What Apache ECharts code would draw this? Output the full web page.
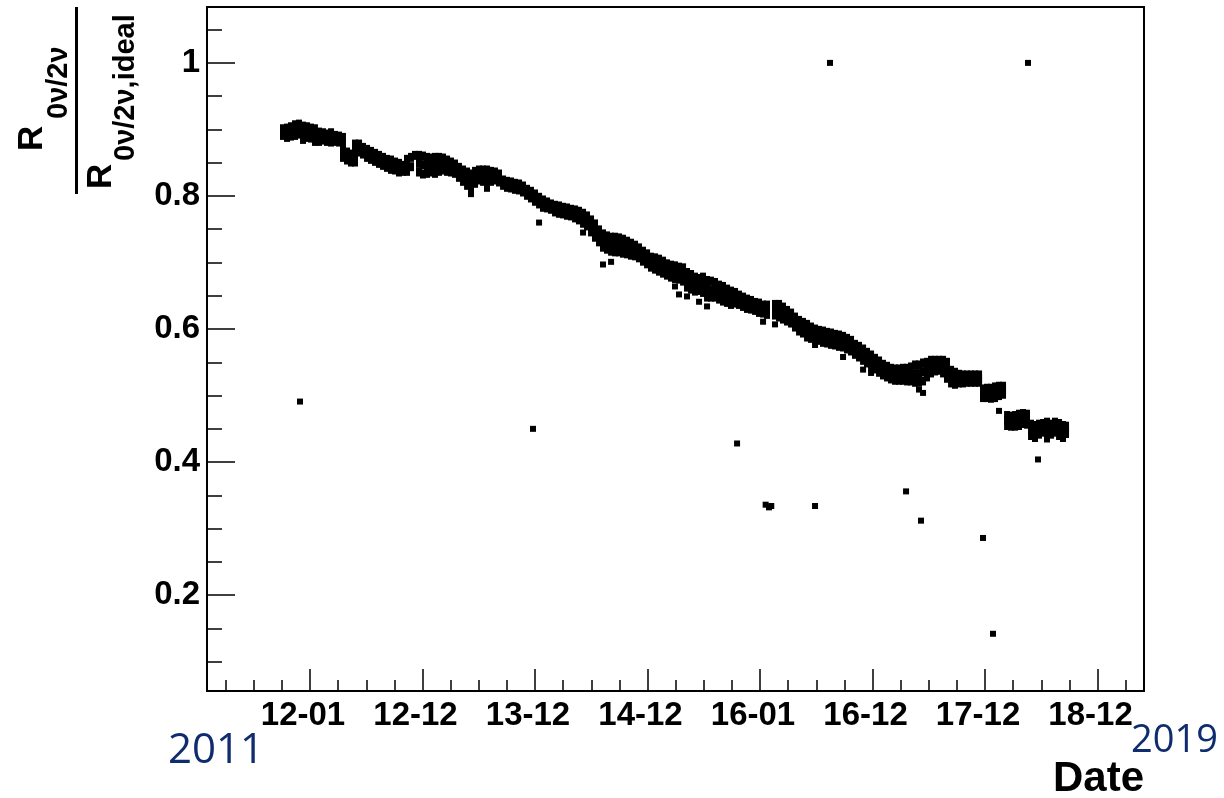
<!DOCTYPE html>
<html><head><meta charset="utf-8">
<script src="https://cdn.jsdelivr.net/npm/echarts@6/dist/echarts.min.js"></script>
<style>html,body{margin:0;padding:0;background:#fff}#c{width:1224px;height:798px}</style>
</head><body><div id="c"></div>
<script>
// x unit: one major tick interval (~1 year); 0 = "12-01"
const xTickValues = [0, 1, 2, 3, 4, 5, 6, 7];
const xTickLabels = ['12-01', '12-12', '13-12', '14-12', '16-01', '16-12', '17-12', '18-12'];
const xMinorValues = [-0.75, -0.5, -0.25, 0.25, 0.5, 0.75, 1.25, 1.5, 1.75, 2.25, 2.5, 2.75, 3.25, 3.5, 3.75,
  4.25, 4.5, 4.75, 5.25, 5.5, 5.75, 6.25, 6.5, 6.75, 7.25];
const yTickValues = [0.2, 0.4, 0.6, 0.8, 1.0];
const yMinorValues = [0.1, 0.15, 0.25, 0.3, 0.35, 0.45, 0.5, 0.55, 0.65, 0.7, 0.75, 0.85, 0.9, 0.95, 1.05];

// main band: [date, ratio, ratio, ...]
const band2012a = [
  [-0.240, 0.901, 0.896, 0.891], [-0.204, 0.902, 0.895, 0.888], [-0.169, 0.904, 0.897, 0.890],
  [-0.133, 0.907, 0.899, 0.891], [-0.098, 0.908, 0.901, 0.893], [-0.062, 0.905, 0.895, 0.885],
  [-0.027, 0.904, 0.896, 0.888], [0.009, 0.902, 0.895, 0.887], [0.044, 0.901, 0.891, 0.882],
  [0.080, 0.896, 0.889, 0.882], [0.116, 0.895, 0.889, 0.884], [0.151, 0.893, 0.888, 0.882],
  [0.187, 0.895, 0.888, 0.881], [0.222, 0.891, 0.887, 0.882], [0.258, 0.890, 0.885, 0.881],
  [0.293, 0.888, 0.879, 0.867, 0.858], [0.329, 0.866, 0.859, 0.854], [0.364, 0.863, 0.856, 0.851],
  [0.400, 0.878, 0.870, 0.860, 0.851], [0.436, 0.878, 0.872, 0.866], [0.471, 0.873, 0.868, 0.863],
  [0.507, 0.870, 0.864, 0.858], [0.542, 0.867, 0.861, 0.855], [0.578, 0.864, 0.858, 0.852],
  [0.613, 0.861, 0.855, 0.849], [0.649, 0.858, 0.852, 0.846], [0.684, 0.855, 0.849, 0.843],
  [0.720, 0.854, 0.847, 0.840], [0.756, 0.851, 0.845, 0.839], [0.791, 0.849, 0.843, 0.836],
  [0.827, 0.846, 0.842, 0.837], [0.862, 0.855, 0.846, 0.837], [0.898, 0.858, 0.844], [0.933, 0.861]
];
const band2013 = [
  [0.969, 0.861, 0.849, 0.836], [1.004, 0.860, 0.847, 0.833], [1.040, 0.858, 0.846, 0.834],
  [1.076, 0.857, 0.847, 0.836], [1.111, 0.858, 0.846, 0.834], [1.147, 0.858, 0.849, 0.837],
  [1.182, 0.857, 0.849, 0.839], [1.218, 0.854, 0.846, 0.837], [1.253, 0.851, 0.843, 0.836],
  [1.289, 0.848, 0.841, 0.834], [1.324, 0.843, 0.836, 0.828], [1.360, 0.839, 0.831, 0.822],
  [1.396, 0.836, 0.826, 0.816], [1.431, 0.833, 0.822, 0.812, 0.805], [1.467, 0.837, 0.828, 0.819],
  [1.502, 0.839, 0.831, 0.824], [1.538, 0.839, 0.831, 0.822], [1.573, 0.839, 0.829, 0.819, 0.813],
  [1.609, 0.837, 0.830, 0.822], [1.644, 0.836, 0.830, 0.824], [1.680, 0.833, 0.827, 0.821],
  [1.716, 0.824, 0.820, 0.816], [1.751, 0.822, 0.818, 0.813], [1.787, 0.821, 0.816, 0.812],
  [1.822, 0.819, 0.815, 0.810], [1.858, 0.818, 0.813, 0.809], [1.893, 0.815, 0.810, 0.806],
  [1.929, 0.810, 0.806, 0.801], [1.964, 0.807, 0.802, 0.797]
];
const band2014 = [
  [2.000, 0.803, 0.797, 0.792], [2.036, 0.798, 0.793, 0.788], [2.071, 0.794, 0.788, 0.783],
  [2.107, 0.791, 0.786, 0.782], [2.142, 0.788, 0.784, 0.780], [2.178, 0.786, 0.781, 0.776],
  [2.213, 0.785, 0.779, 0.774], [2.249, 0.783, 0.778, 0.773], [2.284, 0.782, 0.776, 0.771],
  [2.320, 0.780, 0.775, 0.770], [2.356, 0.779, 0.773, 0.767], [2.391, 0.777, 0.770, 0.764],
  [2.427, 0.774, 0.767, 0.759], [2.462, 0.770, 0.762, 0.755], [2.498, 0.764, 0.755, 0.746],
  [2.533, 0.758, 0.748, 0.738], [2.569, 0.749, 0.740, 0.731], [2.604, 0.743, 0.733, 0.723],
  [2.640, 0.740, 0.730, 0.720], [2.676, 0.738, 0.728, 0.717], [2.711, 0.738, 0.727, 0.716],
  [2.747, 0.737, 0.726, 0.716], [2.782, 0.735, 0.725, 0.714], [2.818, 0.732, 0.722, 0.713],
  [2.853, 0.729, 0.720, 0.711], [2.889, 0.726, 0.718, 0.710], [2.924, 0.722, 0.714, 0.707],
  [2.960, 0.717, 0.710, 0.702]
];
const band2015 = [
  [2.996, 0.713, 0.705, 0.698], [3.031, 0.708, 0.701, 0.693], [3.067, 0.707, 0.698, 0.690],
  [3.102, 0.705, 0.696, 0.687], [3.138, 0.702, 0.693, 0.684], [3.173, 0.698, 0.689, 0.681],
  [3.209, 0.696, 0.687, 0.678], [3.244, 0.695, 0.685, 0.676], [3.280, 0.693, 0.684, 0.675],
  [3.316, 0.692, 0.682, 0.672], [3.351, 0.685, 0.674, 0.663], [3.387, 0.682, 0.671, 0.660],
  [3.422, 0.678, 0.667, 0.657], [3.458, 0.676, 0.667, 0.658], [3.493, 0.678, 0.667, 0.655],
  [3.529, 0.673, 0.661, 0.648], [3.564, 0.672, 0.659, 0.648], [3.600, 0.670, 0.659, 0.648],
  [3.636, 0.666, 0.655, 0.645], [3.671, 0.664, 0.653, 0.642], [3.707, 0.660, 0.650, 0.640],
  [3.742, 0.657, 0.647, 0.637], [3.778, 0.655, 0.647, 0.639], [3.813, 0.651, 0.644, 0.637],
  [3.849, 0.648, 0.641, 0.634], [3.884, 0.645, 0.638, 0.631], [3.920, 0.643, 0.637, 0.630],
  [3.956, 0.640, 0.634, 0.628], [3.991, 0.639, 0.632, 0.625]
];
const band2016 = [
  [4.027, 0.636, 0.630, 0.624], [4.062, 0.636, 0.629, 0.622], [4.133, 0.637, 0.629, 0.621],
  [4.169, 0.637, 0.628, 0.618], [4.204, 0.633, 0.624, 0.615], [4.240, 0.628, 0.620, 0.612],
  [4.276, 0.624, 0.616, 0.609], [4.311, 0.618, 0.610, 0.603], [4.347, 0.613, 0.605, 0.597],
  [4.382, 0.610, 0.602, 0.594], [4.418, 0.607, 0.598, 0.588], [4.453, 0.603, 0.594, 0.586],
  [4.489, 0.600, 0.592, 0.585], [4.524, 0.598, 0.591, 0.583], [4.560, 0.597, 0.589, 0.580],
  [4.596, 0.595, 0.587, 0.579], [4.631, 0.594, 0.585, 0.577], [4.667, 0.592, 0.584, 0.576],
  [4.702, 0.591, 0.582, 0.574], [4.738, 0.589, 0.581, 0.573], [4.773, 0.586, 0.578, 0.570],
  [4.809, 0.583, 0.575, 0.567], [4.844, 0.577, 0.570, 0.562], [4.880, 0.574, 0.566, 0.558],
  [4.916, 0.570, 0.561, 0.553], [4.951, 0.565, 0.557, 0.549], [4.987, 0.561, 0.552, 0.544]
];
const band2017 = [
  [5.022, 0.556, 0.548, 0.540], [5.058, 0.552, 0.543, 0.535], [5.093, 0.547, 0.539, 0.531],
  [5.129, 0.544, 0.536, 0.528], [5.164, 0.541, 0.533, 0.525], [5.200, 0.540, 0.531, 0.523],
  [5.236, 0.540, 0.530, 0.523], [5.271, 0.541, 0.532, 0.523], [5.307, 0.541, 0.531, 0.522],
  [5.342, 0.543, 0.532, 0.522], [5.378, 0.546, 0.533, 0.520], [5.413, 0.546, 0.533, 0.520],
  [5.449, 0.549, 0.536, 0.522], [5.484, 0.550, 0.539, 0.528], [5.520, 0.553, 0.543, 0.534],
  [5.556, 0.553, 0.545, 0.537], [5.591, 0.553, 0.546, 0.538], [5.627, 0.553, 0.543, 0.534],
  [5.662, 0.550, 0.539, 0.526], [5.698, 0.538, 0.528, 0.519], [5.733, 0.535, 0.526, 0.517],
  [5.769, 0.532, 0.525, 0.519], [5.804, 0.531, 0.524, 0.519], [5.840, 0.531, 0.525, 0.520],
  [5.876, 0.531, 0.525, 0.520], [5.911, 0.531, 0.525, 0.520], [5.947, 0.531, 0.525, 0.520]
];
const band2018 = [
  [5.982, 0.510, 0.503, 0.497], [6.018, 0.511, 0.504, 0.497], [6.053, 0.511, 0.503, 0.496],
  [6.089, 0.513, 0.505, 0.497], [6.124, 0.514, 0.507, 0.500], [6.160, 0.514, 0.508, 0.502],
  [6.196, 0.470, 0.463, 0.455], [6.231, 0.469, 0.461, 0.454], [6.267, 0.470, 0.462, 0.454],
  [6.302, 0.472, 0.464, 0.455], [6.338, 0.473, 0.466, 0.458], [6.373, 0.472, 0.464, 0.457],
  [6.409, 0.457, 0.448, 0.440], [6.444, 0.455, 0.446, 0.437], [6.480, 0.457, 0.449, 0.442],
  [6.516, 0.458, 0.452, 0.445], [6.551, 0.460, 0.452, 0.443], [6.587, 0.457, 0.449, 0.442],
  [6.622, 0.460, 0.452, 0.445], [6.658, 0.458, 0.449, 0.440], [6.693, 0.455, 0.446, 0.437],
  [6.720, 0.454, 0.449, 0.443]
];
// stray points just off the band [date, ratio]
const nearBand = [
  [2.036, 0.760], [2.427, 0.745], [2.604, 0.697], [2.676, 0.701], [3.244, 0.664], [3.280, 0.652],
  [3.351, 0.649], [3.458, 0.641], [3.529, 0.634], [4.027, 0.611], [4.133, 0.607], [4.489, 0.576],
  [4.738, 0.558], [4.916, 0.539], [4.987, 0.534], [5.413, 0.509], [5.449, 0.504], [6.124, 0.477],
  [6.551, 0.434]
];
// isolated points [date, ratio]
const outliers = [
  [-0.089, 0.491], [1.982, 0.450], [3.796, 0.428], [4.050, 0.336], [4.080, 0.332], [4.100, 0.334],
  [4.489, 0.334], [4.622, 1.000], [5.298, 0.356], [5.431, 0.312], [5.982, 0.286], [6.071, 0.142],
  [6.382, 1.000], [6.471, 0.404]
];

const bandPoints = [];
[band2012a, band2013, band2014, band2015, band2016, band2017, band2018].forEach(function (seg) {
  seg.forEach(function (row) {
    for (let i = 1; i < row.length; i++) bandPoints.push([row[0], row[i]]);
  });
});
const loosePoints = nearBand.concat(outliers);

const FONT = '"Liberation Sans", Arial, Helvetica, sans-serif';
const chart = echarts.init(document.getElementById('c'), null, { renderer: 'canvas' });
const xMin = -0.9156, xMax = 7.413, yMin = 0.056, yMax = 1.084;

function tickAxisBase() {
  return { type: 'value', axisLine: { show: false, onZero: false }, splitLine: { show: false } };
}

chart.setOption({
  animation: false,
  backgroundColor: '#fff',
  grid: { left: 207, right: 80, top: 7, bottom: 107, show: true, borderColor: '#000', borderWidth: 2, containLabel: false },
  xAxis: [
    Object.assign(tickAxisBase(), {
      min: xMin, max: xMax, position: 'bottom',
      axisTick: { show: true, inside: true, length: 22, customValues: xTickValues, lineStyle: { color: '#000', width: 1.5 } },
      axisLabel: {
        show: true, customValues: xTickValues, margin: 8, padding: [0, 14, 0, 0],
        formatter: function (v) { const i = xTickValues.indexOf(Math.round(v)); return i >= 0 ? xTickLabels[i] : ''; },
        fontFamily: FONT, fontWeight: 'bold', fontSize: 33, color: '#000'
      }
    }),
    Object.assign(tickAxisBase(), {
      min: xMin, max: xMax, position: 'bottom',
      axisTick: { show: true, inside: true, length: 11, customValues: xMinorValues, lineStyle: { color: '#000', width: 1.5 } },
      axisLabel: { show: false }
    })
  ],
  yAxis: [
    Object.assign(tickAxisBase(), {
      min: yMin, max: yMax, position: 'left',
      axisTick: { show: true, inside: true, length: 28, customValues: yTickValues, lineStyle: { color: '#000', width: 1.5 } },
      axisLabel: {
        show: true, customValues: yTickValues, margin: 7,
        formatter: function (v) { return Math.abs(v - 1) < 1e-9 ? '1' : v.toFixed(1); },
        fontFamily: FONT, fontWeight: 'bold', fontSize: 33, color: '#000'
      }
    }),
    Object.assign(tickAxisBase(), {
      min: yMin, max: yMax, position: 'left',
      axisTick: { show: true, inside: true, length: 15, customValues: yMinorValues, lineStyle: { color: '#000', width: 1.5 } },
      axisLabel: { show: false }
    })
  ],
  series: [{
    type: 'scatter', xAxisIndex: 0, yAxisIndex: 0, data: bandPoints,
    symbol: 'rect', symbolSize: [6, 9], itemStyle: { color: '#000', opacity: 1, borderWidth: 0 },
    emphasis: { disabled: true }, silent: true
  }, {
    type: 'scatter', xAxisIndex: 0, yAxisIndex: 0, data: loosePoints,
    symbol: 'rect', symbolSize: 6, itemStyle: { color: '#000', opacity: 1, borderWidth: 0 },
    emphasis: { disabled: true }, silent: true
  }],
  graphic: [
    { type: 'rect', shape: { x: 75, y: 7, width: 3, height: 187 }, style: { fill: '#000' } },
    { type: 'text', x: 32, y: 151, rotation: Math.PI / 2,
      style: { text: 'R', font: 'bold 35px ' + FONT, fill: '#000', align: 'left', verticalAlign: 'middle', textAlign: 'left', textVerticalAlign: 'middle' } },
    { type: 'text', x: 59, y: 119, rotation: Math.PI / 2,
      style: { text: '0ν/2ν', font: 'bold 29px ' + FONT, fill: '#000', align: 'left', verticalAlign: 'middle', textAlign: 'left', textVerticalAlign: 'middle' } },
    { type: 'text', x: 101, y: 189, rotation: Math.PI / 2,
      style: { text: 'R', font: 'bold 35px ' + FONT, fill: '#000', align: 'left', verticalAlign: 'middle', textAlign: 'left', textVerticalAlign: 'middle' } },
    { type: 'text', x: 126, y: 161, rotation: Math.PI / 2,
      style: { text: '0ν/2ν,ideal', font: 'bold 29px ' + FONT, fill: '#000', align: 'left', verticalAlign: 'middle', textAlign: 'left', textVerticalAlign: 'middle' } },
    { type: 'text', x: 1144, y: 779,
      style: { text: 'Date', font: 'bold 42px ' + FONT, fill: '#000', align: 'right', verticalAlign: 'middle', textAlign: 'right', textVerticalAlign: 'middle' } },
    { type: 'text', x: 168, y: 751,
      style: { text: '2011', font: '42px "Open Sans", sans-serif', fill: '#0f2d6e', align: 'left', verticalAlign: 'middle', textAlign: 'left', textVerticalAlign: 'middle' } },
    { type: 'text', x: 1131, y: 741,
      style: { text: '2019', font: '38px "Open Sans", sans-serif', fill: '#0f2d6e', align: 'left', verticalAlign: 'middle', textAlign: 'left', textVerticalAlign: 'middle' } }
  ]
});
</script></body></html>
